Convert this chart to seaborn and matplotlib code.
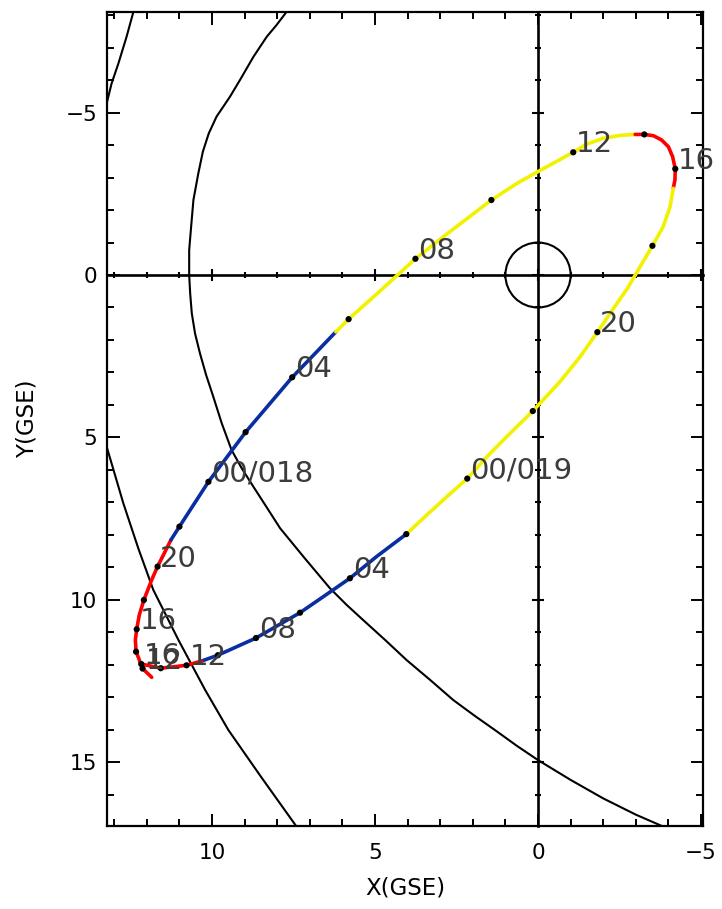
import matplotlib
matplotlib.use("Agg")
import matplotlib.pyplot as plt
from matplotlib.ticker import MultipleLocator, NullFormatter
import seaborn as sns
import pandas as pd

# spacecraft track (GSE, Re), time ordered, day 017 ~11h to day 019 16h
track_x = [11.85, 12.13, 12.25, 12.33, 12.35, 12.31, 12.23, 12.09, 11.85, 11.67,
           11.26, 11.00, 10.11, 8.97, 7.54, 6.20, 5.81, 4.80, 3.76, 2.80,
           1.43, 0.65, 0.01, -1.08, -1.49, -2.00, -2.52, -2.98, -3.26, -3.54,
           -3.79, -4.00, -4.13, -4.21, -4.20, -4.15, -4.05, -3.84, -3.51, -3.10,
           -2.75, -2.30, -1.82, -1.29, -0.67, 0.16, 0.96, 1.57, 2.17, 2.80,
           3.41, 4.04, 4.95, 5.77, 6.59, 7.30, 8.65, 9.82, 10.32, 10.78,
           11.57, 12.17]
track_y = [12.39, 12.12, 11.80, 11.60, 11.24, 10.91, 10.47, 10.01, 9.39, 8.98,
           8.16, 7.75, 6.37, 4.84, 3.15, 1.75, 1.36, 0.45, -0.50, -1.26,
           -2.31, -2.82, -3.18, -3.78, -4.03, -4.21, -4.30, -4.33, -4.33, -4.29,
           -4.16, -3.95, -3.64, -3.27, -2.93, -2.67, -2.10, -1.49, -0.90, -0.20,
           0.40, 1.05, 1.76, 2.52, 3.29, 4.19, 4.98, 5.60, 6.27, 6.83,
           7.39, 7.98, 8.67, 9.34, 9.91, 10.40, 11.18, 11.71, 11.89, 12.02,
           12.11, 11.98]

# colour segments along the track (index of first/last point)
seg_breaks = [0, 10, 15, 27, 35, 51, 58, 61]
seg_colors = ["#ff0000", "#0a2ea0", "#f2f200", "#ff0000", "#f2f200", "#0a2ea0", "#ff0000"]

# 2-hour marks (track indices) and the 4-hour labels
dot_idx = [1, 3, 5, 7, 9, 11, 12, 13, 14, 16, 18, 20, 23, 28, 33, 38, 42, 45,
           48, 51, 53, 55, 56, 57, 59, 60, 61]
label_idx = [1, 5, 9, 12, 14, 18, 23, 33, 42, 48, 53, 56, 59, 61]
label_text = ["12", "16", "20", "00/018", "04", "08", "12", "16", "20",
              "00/019", "04", "08", "12", "16"]

# inner boundary (magnetopause)
mp_x = [7.71, 8.02, 8.32, 8.73, 9.14, 9.45, 9.86, 10.10, 10.28, 10.42, 10.57,
        10.64, 10.70, 10.70, 10.67, 10.62, 10.52, 10.37, 10.18, 9.96, 9.70,
        9.40, 9.09, 8.73, 8.37, 7.91, 7.15, 6.38, 5.87, 5.36, 4.69, 4.03,
        3.31, 2.60, 1.95, 1.30, 0.65, 0.0, -1.00, -2.00, -3.00, -3.80]
mp_y = [-8.11, -7.70, -7.34, -6.72, -6.01, -5.49, -4.88, -4.36, -3.80, -3.13,
        -2.31, -1.49, -0.77, 0.0, 0.56, 1.18, 1.80, 2.41, 3.08, 3.75, 4.57,
        5.39, 5.95, 6.52, 7.08, 7.80, 8.73, 9.65, 10.16, 10.63, 11.24, 11.86,
        12.47, 13.09, 13.57, 14.03, 14.50, 14.94, 15.55, 16.12, 16.62, 16.97]

# outer boundary (bow shock), two visible pieces
bs_top_x = [12.41, 12.62, 12.87, 13.08, 13.23]
bs_top_y = [-8.11, -7.34, -6.52, -5.90, -5.29]
bs_bot_x = [13.23, 12.72, 12.26, 11.80, 11.03, 10.21, 9.50, 8.50, 7.42]
bs_bot_y = [5.29, 7.03, 8.42, 9.70, 11.24, 12.78, 14.01, 15.45, 16.97]

earth_x, earth_y, earth_r = 0.0, 0.0, 1.0

xlim = (13.23, -5.07)
ylim = (16.97, -8.11)

sns.set_style("ticks", {"axes.edgecolor": "black", "xtick.color": "black",
                        "ytick.color": "black", "text.color": "black",
                        "axes.labelcolor": "black"})
plt.rcParams["font.family"] = ["DejaVu Sans"]

fig = plt.figure(figsize=(7.22, 9.09), dpi=100)
pos = [106.7 / 722, 1 - 826 / 909, 596.6 / 722, 814.3 / 909]

# axes through the origin (drawn underneath)
ax0 = fig.add_axes(pos)
ax0.set_xlim(*xlim)
ax0.set_ylim(*ylim)
ax0.patch.set_visible(False)
ax0.spines["left"].set_position(("data", 0))
ax0.spines["bottom"].set_position(("data", 0))
ax0.spines["top"].set_visible(False)
ax0.spines["right"].set_visible(False)
for s in ["left", "bottom"]:
    ax0.spines[s].set_linewidth(1.9)
for a in (ax0.xaxis, ax0.yaxis):
    a.set_major_locator(MultipleLocator(5))
    a.set_minor_locator(MultipleLocator(1))
    a.set_major_formatter(NullFormatter())
ax0.tick_params(which="major", direction="inout", length=9, width=1.5)
ax0.tick_params(which="minor", direction="inout", length=4.5, width=1.5)

ax = fig.add_axes(pos)
ax.patch.set_visible(False)

# boundaries
sns.lineplot(x=mp_x, y=mp_y, sort=False, estimator=None, color="black", lw=1.5, ax=ax)
sns.lineplot(x=bs_top_x, y=bs_top_y, sort=False, estimator=None, color="black", lw=1.5, ax=ax)
sns.lineplot(x=bs_bot_x, y=bs_bot_y, sort=False, estimator=None, color="black", lw=1.5, ax=ax)
ax.add_patch(plt.Circle((earth_x, earth_y), earth_r, fill=False, lw=1.5, color="black"))

# coloured orbit segments
rows = []
for s in range(len(seg_colors)):
    for i in range(seg_breaks[s], seg_breaks[s + 1] + 1):
        rows.append({"x": track_x[i], "y": track_y[i], "seg": s})
df = pd.DataFrame(rows)
sns.lineplot(data=df, x="x", y="y", hue="seg", palette=dict(enumerate(seg_colors)),
             sort=False, estimator=None, lw=2.6, legend=False, ax=ax)

sns.scatterplot(x=[track_x[i] for i in dot_idx], y=[track_y[i] for i in dot_idx],
                color="black", s=20, edgecolor="none", zorder=5, ax=ax)

for i, t in zip(label_idx, label_text):
    ax.annotate(t, (track_x[i], track_y[i]), xytext=(2, 0), textcoords="offset points",
                ha="left", va="baseline", fontsize=21, color="#3c3c3c", zorder=6)

ax.set_xlim(*xlim)
ax.set_ylim(*ylim)
for s in ax.spines.values():
    s.set_visible(True)
    s.set_linewidth(1.6)
for a in (ax.xaxis, ax.yaxis):
    a.set_major_locator(MultipleLocator(5))
    a.set_minor_locator(MultipleLocator(1))
ax.tick_params(which="both", direction="in", top=True, right=True, width=1.4)
ax.tick_params(which="major", length=9)
ax.tick_params(which="minor", length=4.8)
ax.tick_params(axis="x", labelsize=15.5, pad=12)
ax.tick_params(axis="y", labelsize=15.5, pad=7)
ax.set_xlabel("X(GSE)", fontsize=16.5, labelpad=10)
ax.set_ylabel("Y(GSE)", fontsize=16.5, labelpad=19)

fig.savefig("out.png", dpi=100)
